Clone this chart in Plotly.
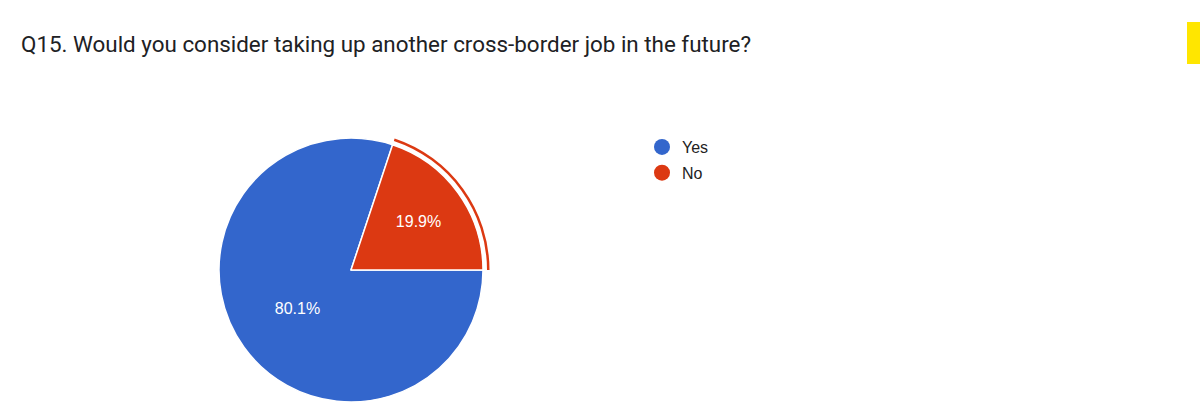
import plotly.graph_objects as go

# survey answers
labels = ['Yes', 'No']
shares = [80.1, 19.9]
colors = ['#3366CC', '#DC3912']

title_text = 'Q15. Would you consider taking up another cross-border job in the future?'

W, H = 1200, 418
cx, cy, r = 351, 270, 132   # pie centre / radius in pixels
ring_r = 138.5              # highlight ring around the "No" slice

label_font = dict(family='Liberation Sans, Arial, sans-serif', size=16)


def dom(radius):
    return dict(x=[(cx - radius) / W, (cx + radius) / W],
                y=[(H - cy - radius) / H, (H - cy + radius) / H])


fig = go.Figure()

# highlight ring (only the "No" part is visible)
fig.add_trace(go.Pie(
    labels=labels,
    values=shares,
    sort=False,
    direction='clockwise',
    rotation=90,
    hole=136 / ring_r,
    domain=dom(ring_r),
    marker=dict(colors=['rgba(0,0,0,0)', colors[1]], line=dict(width=0)),
    textinfo='none',
    hoverinfo='skip',
    showlegend=False,
))

# main pie
fig.add_trace(go.Pie(
    labels=labels,
    values=shares,
    sort=False,
    direction='clockwise',
    rotation=90,
    domain=dom(r),
    marker=dict(colors=colors, line=dict(color='white', width=1.5)),
    texttemplate='%{value:.1f}%',
    textposition='inside',
    insidetextorientation='horizontal',
    textfont=dict(label_font, color='white'),
    showlegend=False,
))

# legend with round markers, one group each so the row gap can be set
for name, col in zip(labels, colors):
    fig.add_trace(go.Scatter(
        x=[None], y=[None], mode='markers', name=name, legendgroup=name,
        marker=dict(color=col, size=16, symbol='circle'),
    ))

fig.update_layout(
    width=W, height=H,
    margin=dict(l=0, r=0, t=0, b=0),
    paper_bgcolor='white',
    plot_bgcolor='white',
    title=dict(text=title_text, x=21 / W, xanchor='left', xref='paper',
               y=1 - 44 / H, yanchor='middle',
               font=dict(family='Roboto, Arial, sans-serif', size=22.4, color='#202124')),
    xaxis=dict(visible=False),
    yaxis=dict(visible=False),
    legend=dict(x=642 / W, y=1 - 130 / H, xanchor='left', yanchor='top',
                font=dict(label_font, color='#222222'),
                itemsizing='trace', tracegroupgap=2, bgcolor='rgba(0,0,0,0)'),
    shapes=[dict(type='rect', xref='paper', yref='paper',
                 x0=1187 / W, x1=1.0, y0=1 - 64 / H, y1=1 - 22 / H,
                 fillcolor='#FFE600', line=dict(width=0), layer='above')],
)

# drop the default body margin so the figure sits at the window's corner
fig.write_html('out.html',
               config={'displayModeBar': False},
               post_script="document.body.style.margin='0';"
                           "document.documentElement.style.overflow='hidden';")
